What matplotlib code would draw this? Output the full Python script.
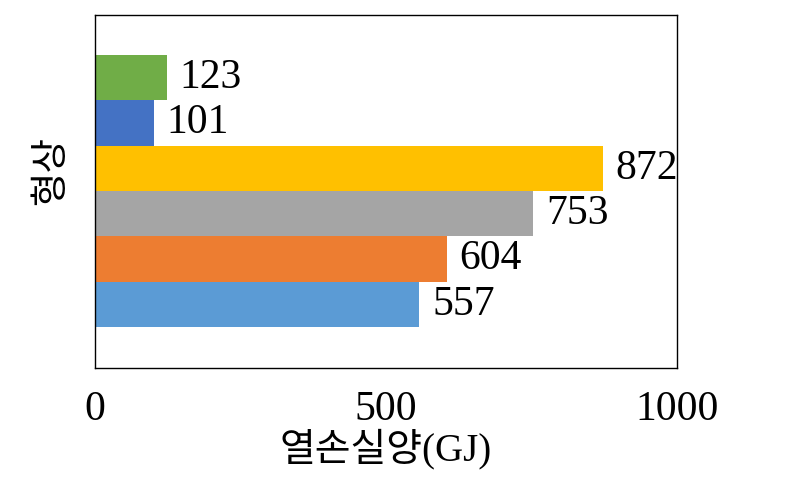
import numpy as np
import matplotlib.pyplot as plt

# bottom to top, as drawn
values = [557, 604, 753, 872, 101, 123]
colors = ['#5B9BD5', '#ED7D31', '#A5A5A5', '#FFC000', '#4472C4', '#70AD47']
x_ticks = [0, 500, 1000]

plt.rcParams['font.family'] = ['Liberation Serif', 'Noto Sans CJK KR', 'DejaVu Sans']

fig = plt.figure(figsize=(7.91, 4.83), dpi=100)
ax = fig.add_axes([95/791, 1 - 368/483, 582/791, 353/483])

ypos = np.arange(len(values))
ax.barh(ypos, values, height=1.0, color=colors)

for y, v in zip(ypos, values):
    ax.text(v + 22, y, str(v), va='center', ha='left', fontsize=30)

ax.set_xlim(0, 1000)
ax.set_ylim(-1.4, 6.38)
ax.set_xticks(x_ticks)
ax.set_xticklabels([str(t) for t in x_ticks])
ax.set_yticks([])
ax.tick_params(axis='x', length=0, pad=16, labelsize=30)

for s in ax.spines.values():
    s.set_color('black')
    s.set_linewidth(1.0)

ax.set_xlabel('열손실양(GJ)', fontsize=28, labelpad=0)
ax.set_ylabel('형상', fontsize=27)
ax.yaxis.set_label_coords(-0.045, 0.56)

fig.savefig('out.png', dpi=100)
